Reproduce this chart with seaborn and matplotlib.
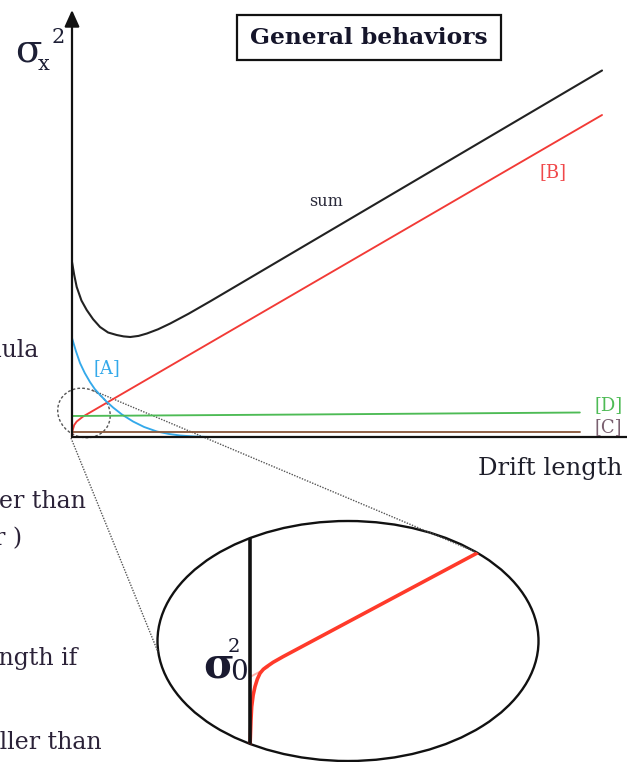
import matplotlib
matplotlib.use("Agg")
import matplotlib.pyplot as plt
from matplotlib.patches import Ellipse, Rectangle
import seaborn as sns

sns.set_style("white")
plt.rcParams["font.family"] = ["DejaVu Serif", "DejaVu Sans"]

# Drift length (arbitrary units) and the beam-size contributions
sum_x = [0.0, 0.04, 0.085, 0.17, 0.265, 0.38, 0.505, 0.65, 0.805, 0.93, 1.05,
         1.2, 1.35, 1.55, 1.77, 2.1, 2.5, 9.55]
sum_y = [3.5, 3.24, 3.0, 2.73, 2.54, 2.356, 2.2, 2.09, 2.04, 2.012, 2.0,
         2.022, 2.07, 2.154, 2.27, 2.465, 2.72, 7.33]

b_x = [0.0, 0.013, 0.04, 0.085, 0.2, 9.55]
b_y = [0.0, 0.14, 0.24, 0.31, 0.41, 6.44]

a_x = [0.0, 0.07, 0.144, 0.23, 0.324, 0.41, 0.505, 0.62, 0.74, 0.9, 1.1,
       1.3, 1.53, 1.75, 1.95, 2.2, 2.5]
a_y = [1.98, 1.72, 1.48, 1.28, 1.1, 0.96, 0.84, 0.71, 0.59, 0.45, 0.31,
       0.2, 0.11, 0.06, 0.03, 0.01, 0.0]

d_x = [0.0, 4.2, 9.15]
d_y = [0.42, 0.45, 0.49]

c_x = [0.0, 9.15]
c_y = [0.1, 0.1]

# Close-up of [B] near the origin (units of sigma_0^2)
zoom_x = [0.0, 0.014, 0.024, 0.045, 0.071, 0.105, 0.143, 0.19, 0.239, 0.33, 0.471, 3.3]
zoom_y = [0.0, 0.386, 0.576, 0.74, 0.861, 0.97, 1.053, 1.11, 1.147, 1.21, 1.29, 2.80]
asym_x = [0.0, 0.26]
asym_y = [1.0, 1.14]

W, H = 627, 762
fig = plt.figure(figsize=(W / 100, H / 100), dpi=100)

# pixel-space layer for the framing, captions and zoom guides
ov = fig.add_axes([0, 0, 1, 1], zorder=0)
ov.set_xlim(0, W)
ov.set_ylim(H, 0)
ov.axis("off")

# main plot
x0, y0, ytop = 72, 437, 10
ax = fig.add_axes([x0 / W, (H - y0) / H, (W - x0) / W, (y0 - ytop) / H], zorder=1)
ax.patch.set_alpha(0)
ax.set_xlim(0, (W - x0) / 55.5)
ax.set_ylim(0, (y0 - ytop) / 50)
for s in ax.spines.values():
    s.set_visible(False)
ax.set_xticks([])
ax.set_yticks([])

curves = [
    (sum_x, sum_y, "#222222", 1.5),
    (b_x, b_y, "#f23a36", 1.35),
    (a_x, a_y, "#34a9ea", 1.35),
    (d_x, d_y, "#4dbb55", 1.35),
    (c_x, c_y, "#8a5a3e", 1.35),
]
for xs, ys, col, lw in curves:
    sns.lineplot(x=xs, y=ys, ax=ax, color=col, linewidth=lw, estimator=None, sort=False)
for ln in ax.lines:
    ln.set_clip_on(False)
ax.set_xlabel("")
ax.set_ylabel("")

# axes
ax.axhline(0, color="#111111", lw=1.6, xmin=0, xmax=1, clip_on=False)
ax.annotate("", xy=(0, ax.get_ylim()[1]), xytext=(0, 0),
            arrowprops=dict(arrowstyle="-|>,head_length=1.0,head_width=0.45",
                            color="#111111", lw=1.6, shrinkA=0, shrinkB=0),
            annotation_clip=False)

ax.text(0.63, 1.38, "[A]", color="#34a9ea", fontsize=13, ha="center", va="center")
ax.text(4.58, 4.7, "sum", color="#2a2a3a", fontsize=11.5, ha="center", va="center")
ax.text(8.67, 5.3, "[B]", color="#f0484a", fontsize=13, ha="center", va="center")
ax.text(9.66, 0.64, "[D]", color="#4dbb55", fontsize=13, ha="center", va="center")
ax.text(9.66, 0.2, "[C]", color="#7a6070", fontsize=13, ha="center", va="center")

# title box
ov.add_patch(Rectangle((237, 15), 264, 45, fill=False, ec="#111111", lw=1.6))
ov.text(369, 37.5, "General behaviors", fontsize=16.8, fontweight="bold",
        color="#15152a", ha="center", va="center")

# y label sigma_x^2
ov.text(15, 62, "σ", fontsize=28, color="#1e2036", ha="left", va="baseline")
ov.text(38, 70, "x", fontsize=15, color="#1e2036", ha="left", va="baseline")
ov.text(52, 43, "2", fontsize=15, color="#1e2036", ha="left", va="baseline")

# x label
ov.text(478, 475, "Drift length", fontsize=17.5, color="#1e1e2a", ha="left", va="baseline")

# surrounding slide text
txt_col = "#2b2238"
for xr, yb, s in [(38, 357, "formula"), (86, 508, "larger than"), (22, 545, "r )"),
                  (77, 665, "length if"), (102, 749, "smaller than")]:
    ov.text(xr, yb, s, fontsize=17, color=txt_col, ha="right", va="baseline")

# zoom guides
ov.add_patch(Ellipse((84, 413), 54, 48, angle=30, fill=False, ec="#555555",
                     lw=1.0, ls=(0, (2, 1.5))))
ov.plot([92, 478], [390, 553], color="#555555", lw=1.0, ls=(0, (1, 1)))
ov.plot([71, 158], [438, 652], color="#555555", lw=1.0, ls=(0, (1, 1)))
big = Ellipse((348, 641), 381, 240, fill=False, ec="#111111", lw=1.7)
ov.add_patch(big)

# close-up inset
ix0, ix1, iy0, iy1 = 158, 539, 521, 761
ins = fig.add_axes([ix0 / W, (H - iy1) / H, (ix1 - ix0) / W, (iy1 - iy0) / H], zorder=2)
ins.patch.set_alpha(0)
ins.set_xlim((ix0 - 250) / 70, (ix1 - 250) / 70)
ins.set_ylim((747 - iy1) / 70, (747 - iy0) / 70)
ins.axis("off")
sns.lineplot(x=asym_x, y=asym_y, ax=ins, color="#ffb2aa", linewidth=1.4, estimator=None, sort=False)
sns.lineplot(x=zoom_x, y=zoom_y, ax=ins, color="#ff3a2a", linewidth=2.6, estimator=None, sort=False)
ins.axvline(0, color="#111111", lw=2.6)
for ln in ins.lines:
    ln.set_clip_path(big)

ov.text(203, 677, "σ", fontsize=30, fontweight="bold", color="#1a1a30", ha="left", va="baseline")
ov.text(230, 680, "0", fontsize=20, color="#1a1a30", ha="left", va="baseline")
ov.text(228, 652, "2", fontsize=14, color="#1a1a30", ha="left", va="baseline")

fig.savefig("out.png", dpi=100)
